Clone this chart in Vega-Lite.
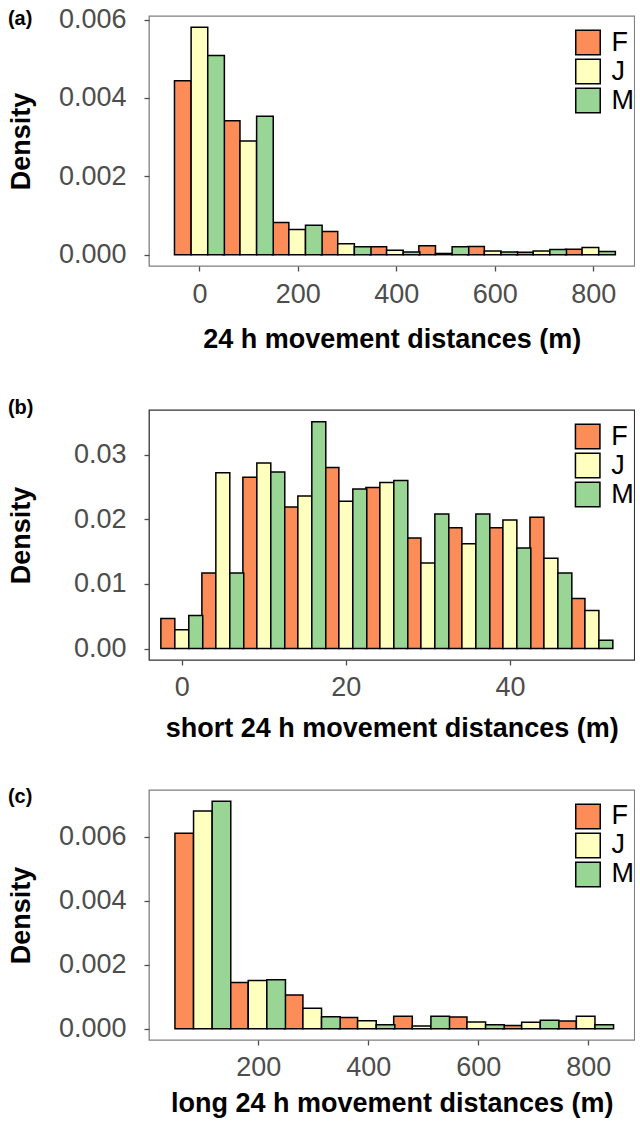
{
  "$schema": "https://vega.github.io/schema/vega-lite/v6.json",
  "background": "white",
  "padding": {"left": 7, "top": 4, "right": 0, "bottom": 0},
  "columns": 1,
  "spacing": 43,
  "datasets": {
    "a": [
      {"bin": 0, "sex": "F", "density": 0.00444}, {"bin": 0, "sex": "J", "density": 0.0058}, {"bin": 0, "sex": "M", "density": 0.00508},
      {"bin": 99.3, "sex": "F", "density": 0.00342}, {"bin": 99.3, "sex": "J", "density": 0.0029}, {"bin": 99.3, "sex": "M", "density": 0.00353},
      {"bin": 198.6, "sex": "F", "density": 0.00082}, {"bin": 198.6, "sex": "J", "density": 0.00064}, {"bin": 198.6, "sex": "M", "density": 0.00075},
      {"bin": 297.9, "sex": "F", "density": 0.00059}, {"bin": 297.9, "sex": "J", "density": 0.00028}, {"bin": 297.9, "sex": "M", "density": 0.0002},
      {"bin": 397.2, "sex": "F", "density": 0.0002}, {"bin": 397.2, "sex": "J", "density": 0.00011}, {"bin": 397.2, "sex": "M", "density": 0.00007},
      {"bin": 496.5, "sex": "F", "density": 0.00023}, {"bin": 496.5, "sex": "J", "density": 0.00003}, {"bin": 496.5, "sex": "M", "density": 0.0002},
      {"bin": 595.8, "sex": "F", "density": 0.00021}, {"bin": 595.8, "sex": "J", "density": 0.00009}, {"bin": 595.8, "sex": "M", "density": 0.00007},
      {"bin": 695.1, "sex": "F", "density": 0.00006}, {"bin": 695.1, "sex": "J", "density": 0.00009}, {"bin": 695.1, "sex": "M", "density": 0.00013},
      {"bin": 794.4, "sex": "F", "density": 0.00014}, {"bin": 794.4, "sex": "J", "density": 0.00018}, {"bin": 794.4, "sex": "M", "density": 0.00008}
    ],
    "b": [
      {"bin": 0, "sex": "F", "density": 0.00467}, {"bin": 0, "sex": "J", "density": 0.00293}, {"bin": 0, "sex": "M", "density": 0.00513},
      {"bin": 5, "sex": "F", "density": 0.0117}, {"bin": 5, "sex": "J", "density": 0.0272}, {"bin": 5, "sex": "M", "density": 0.0117},
      {"bin": 10, "sex": "F", "density": 0.0265}, {"bin": 10, "sex": "J", "density": 0.0287}, {"bin": 10, "sex": "M", "density": 0.0273},
      {"bin": 15, "sex": "F", "density": 0.0219}, {"bin": 15, "sex": "J", "density": 0.0236}, {"bin": 15, "sex": "M", "density": 0.0351},
      {"bin": 20, "sex": "F", "density": 0.028}, {"bin": 20, "sex": "J", "density": 0.0228}, {"bin": 20, "sex": "M", "density": 0.0247},
      {"bin": 25, "sex": "F", "density": 0.0249}, {"bin": 25, "sex": "J", "density": 0.0257}, {"bin": 25, "sex": "M", "density": 0.026},
      {"bin": 30, "sex": "F", "density": 0.0171}, {"bin": 30, "sex": "J", "density": 0.01325}, {"bin": 30, "sex": "M", "density": 0.0208},
      {"bin": 35, "sex": "F", "density": 0.0187}, {"bin": 35, "sex": "J", "density": 0.0162}, {"bin": 35, "sex": "M", "density": 0.0208},
      {"bin": 40, "sex": "F", "density": 0.0187}, {"bin": 40, "sex": "J", "density": 0.0199}, {"bin": 40, "sex": "M", "density": 0.01556},
      {"bin": 45, "sex": "F", "density": 0.0203}, {"bin": 45, "sex": "J", "density": 0.01396}, {"bin": 45, "sex": "M", "density": 0.0117},
      {"bin": 50, "sex": "F", "density": 0.00775}, {"bin": 50, "sex": "J", "density": 0.0059}, {"bin": 50, "sex": "M", "density": 0.00128}
    ],
    "c": [
      {"bin": 99.4, "sex": "F", "density": 0.0061}, {"bin": 99.4, "sex": "J", "density": 0.0068}, {"bin": 99.4, "sex": "M", "density": 0.0071},
      {"bin": 198.8, "sex": "F", "density": 0.00144}, {"bin": 198.8, "sex": "J", "density": 0.0015}, {"bin": 198.8, "sex": "M", "density": 0.00153},
      {"bin": 298.2, "sex": "F", "density": 0.00105}, {"bin": 298.2, "sex": "J", "density": 0.00064}, {"bin": 298.2, "sex": "M", "density": 0.00037},
      {"bin": 397.6, "sex": "F", "density": 0.00035}, {"bin": 397.6, "sex": "J", "density": 0.00025}, {"bin": 397.6, "sex": "M", "density": 0.00012},
      {"bin": 497, "sex": "F", "density": 0.00039}, {"bin": 497, "sex": "J", "density": 0.00008}, {"bin": 497, "sex": "M", "density": 0.00039},
      {"bin": 596.4, "sex": "F", "density": 0.00036}, {"bin": 596.4, "sex": "J", "density": 0.00021}, {"bin": 596.4, "sex": "M", "density": 0.00012},
      {"bin": 695.8, "sex": "F", "density": 0.0001}, {"bin": 695.8, "sex": "J", "density": 0.0002}, {"bin": 695.8, "sex": "M", "density": 0.00026},
      {"bin": 795.2, "sex": "F", "density": 0.00024}, {"bin": 795.2, "sex": "J", "density": 0.00039}, {"bin": 795.2, "sex": "M", "density": 0.00012}
    ]
  },
  "concat": [
    {
      "title": {"text": "(a)", "offset": -23.5},
      "width": 485.4,
      "height": 250,
      "view": {"stroke": "#808080", "strokeWidth": 1.3},
      "data": {"name": "a"},
      "encoding": {
        "x": {"field": "bin", "type": "quantitative", "scale": {"domain": [-92.3, 873.6], "nice": false, "zero": false},
              "axis": {"values": [0, 200, 400, 600, 800], "title": "24 h movement distances (m)", "titlePadding": 19}},
        "y": {"field": "density", "type": "quantitative", "scale": {"domain": [-0.00029, 0.00609], "nice": false, "zero": false},
              "axis": {"values": [0, 0.002, 0.004, 0.006], "format": ".3f", "title": "Density"}},
        "y2": {"datum": 0},
        "color": {"field": "sex", "type": "nominal", "scale": {"domain": ["F", "J", "M"], "range": ["#FC8D59", "#FFFFBF", "#99D594"]},
                  "legend": {"orient": "none", "legendX": 425.5, "legendY": 13, "title": null}}
      },
      "layer": [
        {"transform": [{"filter": "datum.sex === 'F'"}], "mark": {"type": "bar", "stroke": "black", "strokeWidth": 1.5, "width": 16.63, "xOffset": -16.63}},
        {"transform": [{"filter": "datum.sex === 'J'"}], "mark": {"type": "bar", "stroke": "black", "strokeWidth": 1.5, "width": 16.63, "xOffset": 0}},
        {"transform": [{"filter": "datum.sex === 'M'"}], "mark": {"type": "bar", "stroke": "black", "strokeWidth": 1.5, "width": 16.63, "xOffset": 16.63}}
      ]
    },
    {
      "title": {"text": "(b)", "offset": -7.5},
      "width": 485.4,
      "height": 250,
      "view": {"stroke": "#333333", "strokeWidth": 1.3},
      "data": {"name": "b"},
      "encoding": {
        "x": {"field": "bin", "type": "quantitative", "scale": {"domain": [-3.39, 54.57], "nice": false, "zero": false},
              "axis": {"values": [0, 20, 40], "title": "short 24 h movement distances (m)", "titlePadding": 14.5}},
        "y": {"field": "density", "type": "quantitative", "scale": {"domain": [-0.00176, 0.0369], "nice": false, "zero": false},
              "axis": {"values": [0, 0.01, 0.02, 0.03], "format": ".2f", "title": "Density", "titlePadding": 37.5}},
        "y2": {"datum": 0},
        "color": {"field": "sex", "type": "nominal", "scale": {"domain": ["F", "J", "M"], "range": ["#FC8D59", "#FFFFBF", "#99D594"]},
                  "legend": {"orient": "none", "legendX": 425.2, "legendY": 13, "title": null}}
      },
      "layer": [
        {"transform": [{"filter": "datum.sex === 'F'"}], "mark": {"type": "bar", "stroke": "black", "strokeWidth": 1.5, "width": 13.96, "xOffset": -13.96}},
        {"transform": [{"filter": "datum.sex === 'J'"}], "mark": {"type": "bar", "stroke": "black", "strokeWidth": 1.5, "width": 13.96, "xOffset": 0}},
        {"transform": [{"filter": "datum.sex === 'M'"}], "mark": {"type": "bar", "stroke": "black", "strokeWidth": 1.5, "width": 13.96, "xOffset": 13.96}}
      ]
    },
    {
      "title": {"text": "(c)", "offset": -17.2},
      "width": 485.4,
      "height": 250,
      "view": {"stroke": "#808080", "strokeWidth": 1.3},
      "data": {"name": "c"},
      "encoding": {
        "x": {"field": "bin", "type": "quantitative", "scale": {"domain": [10.6, 874.7], "nice": false, "zero": false},
              "axis": {"values": [200, 400, 600, 800], "title": "long 24 h movement distances (m)", "titlePadding": 10}},
        "y": {"field": "density", "type": "quantitative", "scale": {"domain": [-0.000355, 0.007455], "nice": false, "zero": false},
              "axis": {"values": [0, 0.002, 0.004, 0.006], "format": ".3f", "title": "Density"}},
        "y2": {"datum": 0},
        "color": {"field": "sex", "type": "nominal", "scale": {"domain": ["F", "J", "M"], "range": ["#FC8D59", "#FFFFBF", "#99D594"]},
                  "legend": {"orient": "none", "legendX": 425.5, "legendY": 13, "title": null}}
      },
      "layer": [
        {"transform": [{"filter": "datum.sex === 'F'"}], "mark": {"type": "bar", "stroke": "black", "strokeWidth": 1.5, "width": 18.61, "xOffset": -18.61}},
        {"transform": [{"filter": "datum.sex === 'J'"}], "mark": {"type": "bar", "stroke": "black", "strokeWidth": 1.5, "width": 18.61, "xOffset": 0}},
        {"transform": [{"filter": "datum.sex === 'M'"}], "mark": {"type": "bar", "stroke": "black", "strokeWidth": 1.5, "width": 18.61, "xOffset": 18.61}}
      ]
    }
  ],
  "resolve": {
    "scale": {"x": "independent", "y": "independent", "color": "independent"},
    "legend": {"color": "independent"},
    "axis": {"x": "independent", "y": "independent"}
  },
  "config": {
    "font": "Liberation Sans",
    "axis": {
      "labelFont": "Liberation Sans", "labelFontSize": 27, "labelColor": "#4D4D4D",
      "titleFont": "Liberation Sans", "titleFontSize": 27, "titleFontWeight": "bold", "titleColor": "black",
      "tickColor": "#4D4D4D", "tickSize": 5, "tickWidth": 1.3, "domain": false, "grid": false
    },
    "axisX": {"labelPadding": 10},
    "axisY": {"labelPadding": 18, "titlePadding": 22.5},
    "legend": {
      "padding": 0, "rowPadding": -8.2, "symbolType": "square", "symbolSize": 600,
      "symbolStrokeColor": "black", "symbolStrokeWidth": 1.5, "symbolOpacity": 1,
      "labelFont": "Liberation Sans", "labelFontSize": 27, "labelColor": "black", "labelOffset": 10
    },
    "title": {"font": "Liberation Sans", "fontSize": 20, "fontWeight": "bold", "color": "black", "anchor": "start", "frame": "bounds"}
  }
}
